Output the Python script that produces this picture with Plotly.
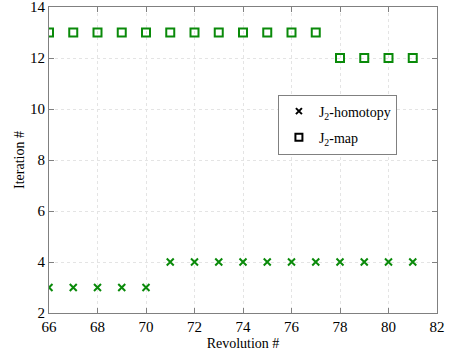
import plotly.graph_objects as go

revolutions = list(range(66, 82))
homotopy_iters = [3, 3, 3, 3, 3, 4, 4, 4, 4, 4, 4, 4, 4, 4, 4, 4]
map_iters = [13, 13, 13, 13, 13, 13, 13, 13, 13, 13, 13, 13, 12, 12, 12, 12]

x_ticks = [66, 68, 70, 72, 74, 76, 78, 80, 82]
y_ticks = [2, 4, 6, 8, 10, 12, 14]

green = "#0a8a0a"
font_family = "Liberation Serif"

fig = go.Figure()

# data markers (green), legend entries drawn separately in black
fig.add_trace(go.Scatter(
    x=revolutions, y=homotopy_iters, mode="markers", showlegend=False,
    marker=dict(symbol="x-thin-open", size=7, color=green,
                line=dict(color=green, width=2)),
))
fig.add_trace(go.Scatter(
    x=revolutions, y=map_iters, mode="markers", showlegend=False,
    marker=dict(symbol="square-open", size=8, color=green,
                line=dict(color=green, width=2)),
))
fig.add_trace(go.Scatter(
    x=[None], y=[None], mode="markers", name="J<sub>2</sub>-homotopy",
    legendgroup="a",
    marker=dict(symbol="x-thin-open", size=6, color="black",
                line=dict(color="black", width=2)),
))
fig.add_trace(go.Scatter(
    x=[None], y=[None], mode="markers", name="J<sub>2</sub>-map",
    legendgroup="b",
    marker=dict(symbol="square-open", size=7, color="black",
                line=dict(color="black", width=2)),
))

axis_common = dict(
    showline=True, linecolor="#808080", linewidth=1, mirror="ticks",
    ticks="inside", ticklen=5, tickcolor="#808080",
    showgrid=True, gridcolor="#e4e4e4", griddash="dot", gridwidth=1,
    zeroline=False, ticklabeloverflow="allow",
    tickfont=dict(family=font_family, size=15, color="black"),
)

fig.update_layout(
    width=452, height=362,
    margin=dict(l=49, r=15, t=7, b=49, autoexpand=False),
    paper_bgcolor="white", plot_bgcolor="white",
    font=dict(family=font_family, color="black"),
    xaxis=dict(range=[66, 82], tickvals=x_ticks,
               title=dict(text="Revolution #", font=dict(family=font_family, size=14),
                          standoff=4),
               **axis_common),
    yaxis=dict(range=[2, 14], tickvals=y_ticks,
               title=dict(text="Iteration #", font=dict(family=font_family, size=14),
                          standoff=2),
               **axis_common),
    legend=dict(
        x=0.59, y=0.714, xanchor="left", yanchor="top",
        bgcolor="white", bordercolor="#808080", borderwidth=1,
        font=dict(family=font_family, size=14, color="black"),
        itemwidth=30, tracegroupgap=5,
    ),
)

fig.write_html("out.html")
